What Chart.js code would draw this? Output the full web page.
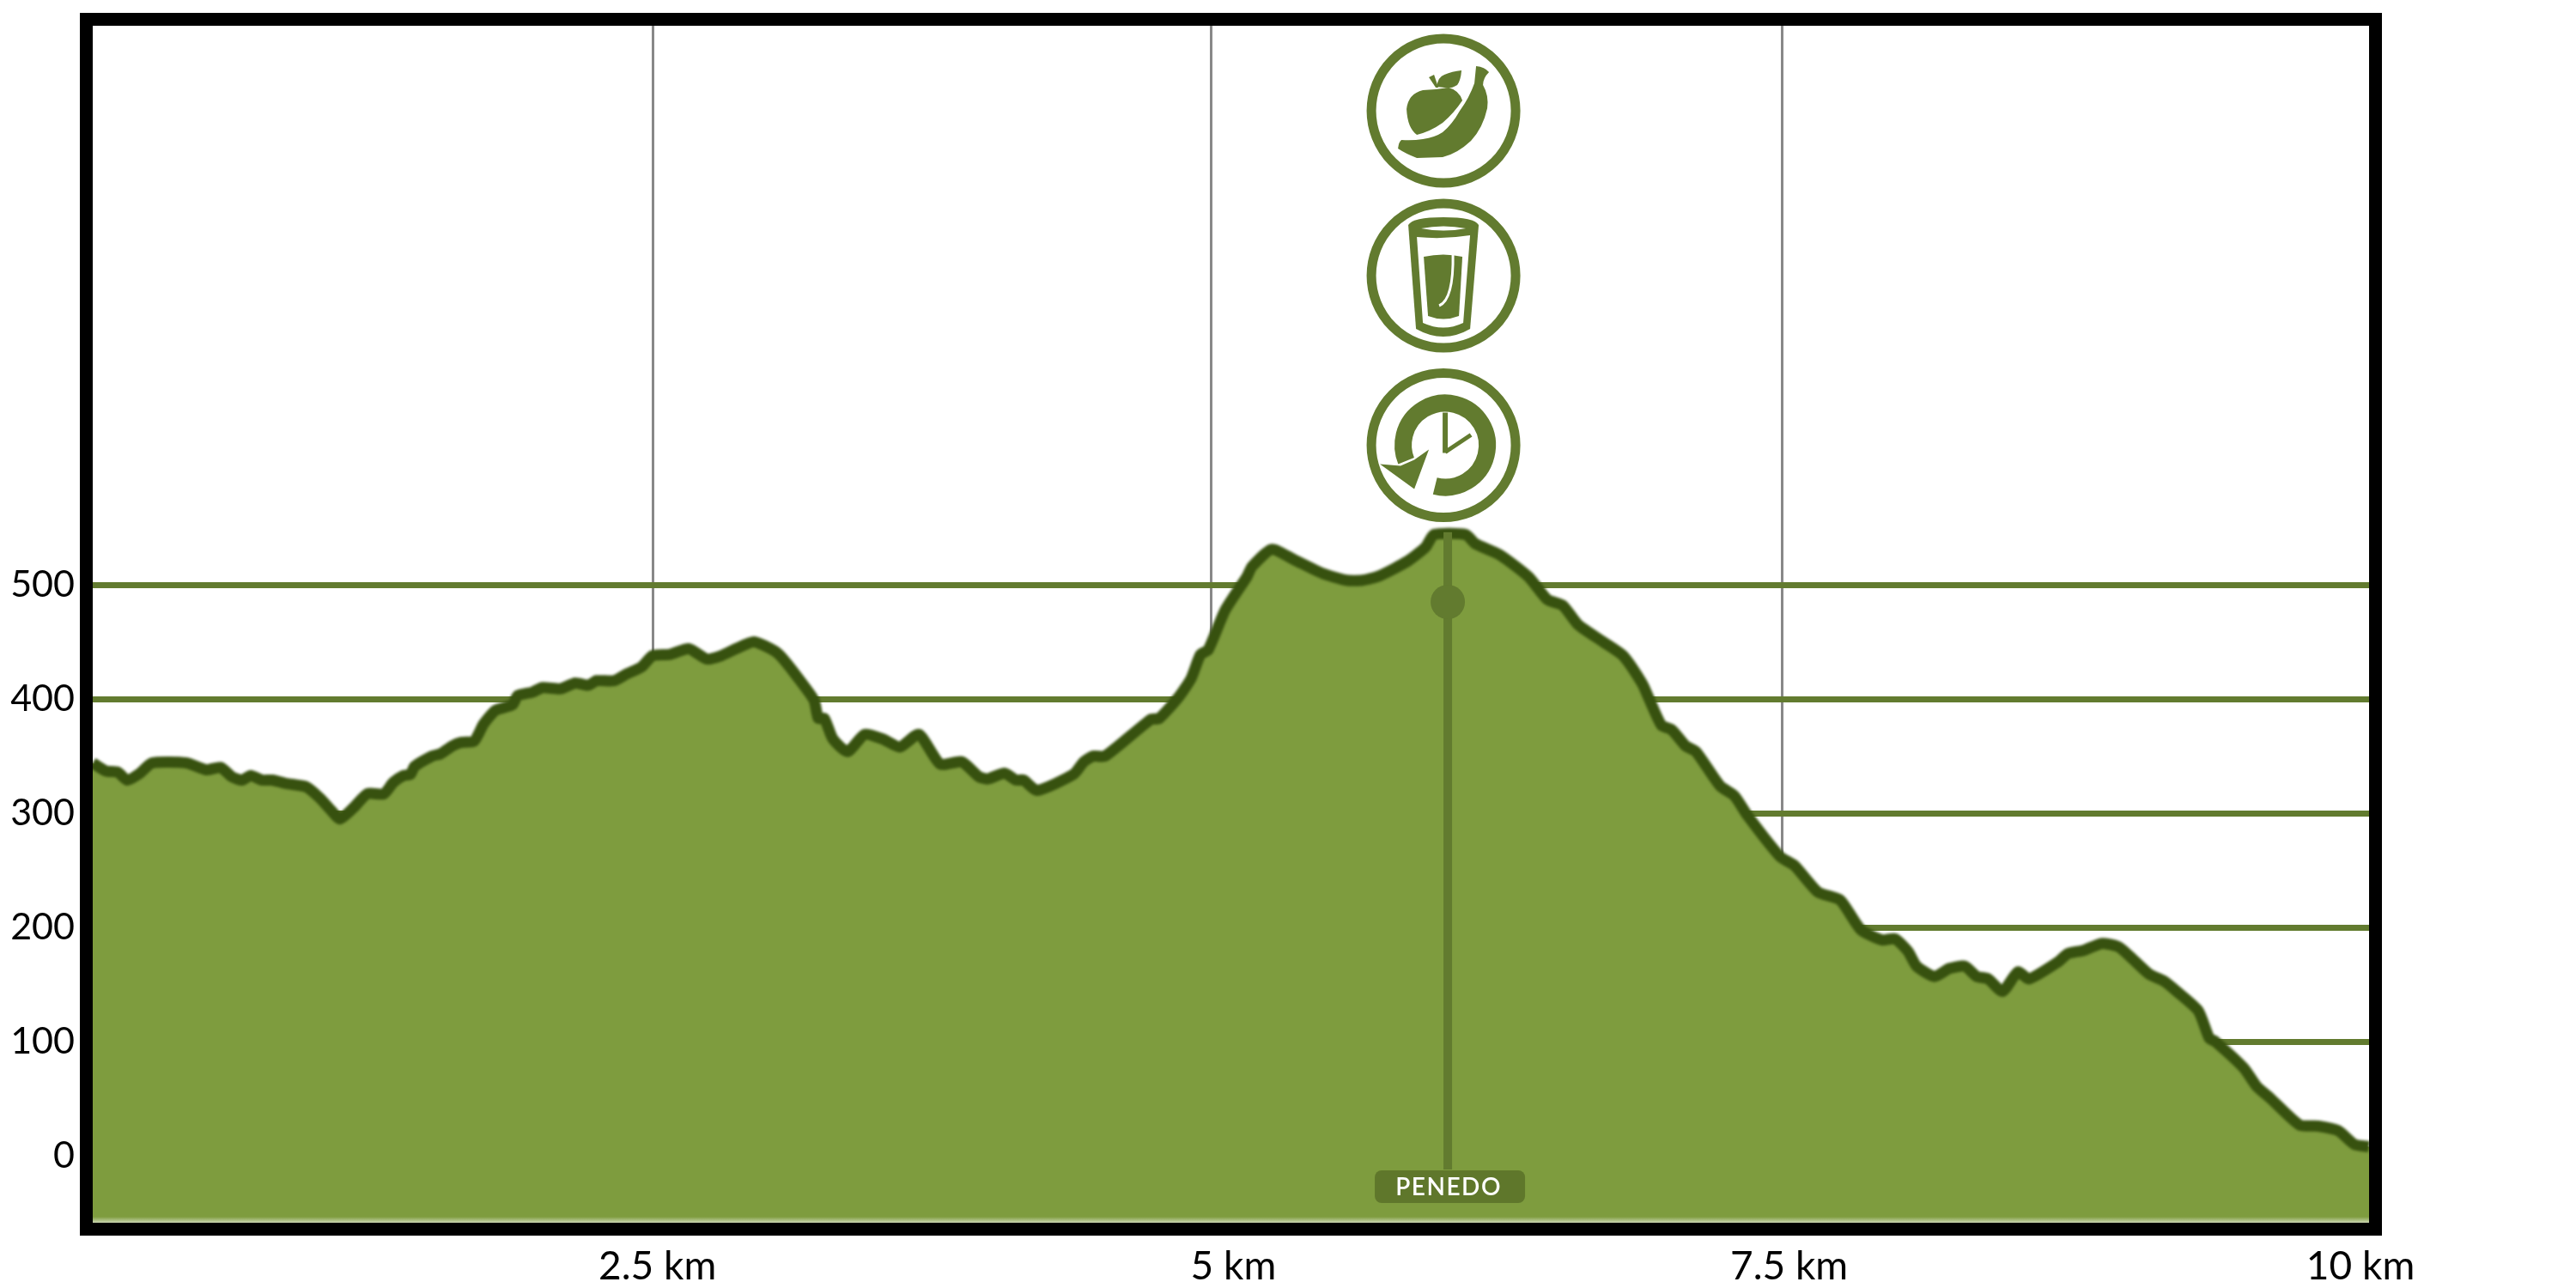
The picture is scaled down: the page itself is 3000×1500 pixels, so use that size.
<!DOCTYPE html>
<html>
<head>
<meta charset="utf-8">
<style>
  html, body { margin: 0; padding: 0; background: #fff; }
  canvas { display: block; }
</style>
<script src="https://cdn.jsdelivr.net/npm/chart.js@4"></script>
</head>
<body>
<canvas id="profileChart" width="3000" height="1500"></canvas>
<script>
// Elevation profile
const distanceKm = [
  0, 0.057, 0.111, 0.153, 0.21, 0.263, 0.416, 0.504, 0.569, 0.618, 0.664, 0.702, 0.752, 0.798, 0.859, 0.95,
  1.011, 1.057, 1.099, 1.16, 1.221, 1.294, 1.336, 1.382, 1.412, 1.431, 1.508, 1.546, 1.599, 1.637, 1.695, 1.737,
  1.79, 1.866, 1.889, 1.954, 2.0, 2.08, 2.145, 2.202, 2.24, 2.317, 2.374, 2.439, 2.489, 2.565, 2.649, 2.729,
  2.794, 2.859, 2.939, 3.031, 3.069, 3.137, 3.206, 3.225, 3.252, 3.29, 3.355, 3.431, 3.511, 3.588, 3.672, 3.767,
  3.863, 3.939, 3.977, 4.053, 4.103, 4.137, 4.198, 4.359, 4.405, 4.447, 4.5, 4.702, 4.74, 4.828, 4.882, 4.924,
  4.958, 5.034, 5.13, 5.153, 5.24, 5.34, 5.466, 5.573, 5.645, 5.721, 5.847, 5.924, 5.962, 6.103, 6.145, 6.256,
  6.382, 6.466, 6.534, 6.603, 6.714, 6.802, 6.889, 6.916, 6.973, 7.019, 7.08, 7.126, 7.233, 7.298, 7.355, 7.5,
  7.565, 7.668, 7.767, 7.859, 7.954, 8.011, 8.069, 8.107, 8.187, 8.252, 8.321, 8.374, 8.424, 8.489, 8.557, 8.607,
  8.737, 8.779, 8.851, 8.931, 9.004, 9.053, 9.141, 9.206, 9.263, 9.359, 9.408, 9.435, 9.561, 9.618, 9.676, 9.809,
  9.893, 9.981, 10.053, 10.118
];
const elevationM = [
  344, 337, 336, 329, 335, 344, 344, 338, 340, 332, 329, 333, 329, 329, 326, 323,
  313, 303, 295, 305, 317, 317, 327, 333, 334, 341, 350, 352, 359, 362, 363, 378,
  390, 395, 403, 406, 410, 409, 414, 412, 416, 416, 422, 428, 438, 439, 444, 435,
  438, 444, 450, 442, 435, 418, 399, 383, 383, 365, 354, 369, 365, 358, 369, 343,
  345, 332, 330, 335, 329, 329, 320, 334, 345, 350, 350, 382, 383, 402, 418, 439,
  443, 478, 507, 516, 531, 522, 510, 504, 504, 508, 521, 533, 544, 544, 536, 526,
  507, 487, 482, 465, 450, 438, 413, 401, 377, 373, 359, 354, 324, 315, 298, 262,
  254, 231, 224, 198, 189, 190, 179, 166, 157, 164, 166, 157, 155, 144, 161, 155,
  170, 177, 180, 186, 183, 175, 159, 153, 144, 127, 103, 100, 77, 61, 51, 27,
  26, 22, 10, 8
];
const yTicks = [0, 100, 200, 300, 400, 500];
const gridKm = [2.49, 4.97, 7.51];
const labelKm = [2.51, 5.07, 7.54, 10.08];
const kmLabels = ["2.5 km", "5 km", "7.5 km", "10 km"];
const stopKm = [6.023];
const stopName = "PENEDO";
const stopDotM = [485];
const stopLineM = [-12, 546];

const xMax = 10.118;
const yMin = -58.6;
const yMax = 989.5;

const FONT = "Lato, 'Open Sans', sans-serif";
const GREEN = "#627b2f";

// Icons are drawn around (0,0), the middle of each ring
function drawFruit(ctx) {
  ctx.fill(new Path2D("M-31 28 Q-42 20 -43 -2 Q-41 -20 -24 -24 L-9 -25 L6 -27 Q18 -24 22 -12 Q12 3 -1 14 Q-15 24 -31 28 Z"));
  ctx.fill(new Path2D("M-8 -28 Q-6 -40 1 -42 Q10 -46 21 -47 Q20 -35 16 -30 Q8 -25 1 -27 Z"));
  ctx.fill(new Path2D("M-17 -39 L-11 -42 L-6 -27 L-9 -27 Z"));
  ctx.fill(new Path2D("M-53 44 Q-52 36 -49 34 Q-36 35 -24 33 Q-10 31 -1 25 Q10 16 19 0 Q30 -15 36 -32 L38 -52 Q48 -51 53 -45 Q46 -38 46 -30 Q53 -18 51 -3 Q46 20 32 35 Q16 50 -1 54 L-31 55 Q-44 50 -53 44 Z"));
}

function drawGlass(ctx) {
  ctx.fill(new Path2D("M-41 -59 Q-36 -68 0 -68 Q36 -68 41 -59 L31 62 Q0 80 -32 62 Z"));
  ctx.fillStyle = "#fff";
  ctx.fill(new Path2D("M-31 -45 Q0 -42 31 -47 L23 55 Q0 66 -24 55 Z"));
  ctx.fill(new Path2D("M-26 -55 Q0 -60 26 -55 Q0 -50 -26 -55 Z"));
  ctx.fillStyle = GREEN;
  ctx.fill(new Path2D("M-23 -22 Q0 -27 22 -22 L18 47 Q0 54 -18 47 Z"));
  ctx.strokeStyle = "#fff";
  ctx.lineWidth = 3;
  ctx.stroke(new Path2D("M11 -26 Q12 28 -5 35"));
}

function drawClock(ctx) {
  ctx.lineWidth = 20;
  ctx.beginPath();
  ctx.arc(2, 0, 49, 104 * Math.PI / 180, 158 * Math.PI / 180, true);
  ctx.stroke();
  ctx.fill(new Path2D("M-74 22 L-34 51 L-17 5 L-34 17 L-50 24 Z"));
  ctx.lineWidth = 6;
  ctx.stroke(new Path2D("M2 -38 L2 9"));
  ctx.lineWidth = 5;
  ctx.stroke(new Path2D("M2 8 L32 -12"));
}

const icons = [
  { cy: 129, draw: drawFruit },
  { cy: 321, draw: drawGlass },
  { cy: 518.5, draw: drawClock }
];

// Frame, soft bottom edge, stop label and the three service icons
const decorPlugin = {
  id: "decor",
  beforeDatasetDraw(chart, args) {
    if (chart.data.datasets[args.index].label === "profile") {
      chart.ctx.save();
      chart.ctx.filter = "blur(1.8px)";
    }
  },
  afterDatasetDraw(chart, args) {
    if (chart.data.datasets[args.index].label === "profile") {
      chart.ctx.restore();
    }
  },
  afterDraw(chart) {
    const ctx = chart.ctx;
    const a = chart.chartArea;

    const fade = ctx.createLinearGradient(0, a.bottom - 7, 0, a.bottom);
    fade.addColorStop(0, "rgba(255,255,255,0)");
    fade.addColorStop(1, "rgba(255,255,255,0.6)");
    ctx.fillStyle = fade;
    ctx.fillRect(a.left, a.bottom - 7, a.right - a.left, 7);

    ctx.strokeStyle = "#000";
    ctx.lineWidth = 15;
    ctx.strokeRect(a.left - 7.5, a.top - 7.5, a.right - a.left + 15, a.bottom - a.top + 15);

    const px = chart.scales.x.getPixelForValue(stopKm[0]);

    ctx.fillStyle = "#5f772b";
    ctx.beginPath();
    ctx.roundRect(px - 85, a.bottom - 61, 175, 38, 8);
    ctx.fill();
    ctx.fillStyle = "#fff";
    ctx.font = "600 28px " + FONT;
    ctx.letterSpacing = "1.5px";
    ctx.textAlign = "center";
    ctx.textBaseline = "middle";
    ctx.fillText(stopName, px + 1, a.bottom - 41);
    ctx.letterSpacing = "0px";

    icons.forEach(icon => {
      ctx.save();
      ctx.translate(px - 5, icon.cy);
      ctx.fillStyle = "#fff";
      ctx.strokeStyle = GREEN;
      ctx.lineWidth = 11;
      ctx.beginPath();
      ctx.arc(0, 0, 84, 0, Math.PI * 2);
      ctx.fill();
      ctx.stroke();
      ctx.fillStyle = GREEN;
      icon.draw(ctx);
      ctx.restore();
    });
  }
};

new Chart(document.getElementById("profileChart"), {
  type: "line",
  data: {
    datasets: [
      {
        label: "dot",
        data: [{ x: stopKm[0], y: stopDotM[0] }],
        showLine: false,
        pointRadius: 20,
        pointBackgroundColor: GREEN,
        pointBorderWidth: 0,
        order: 0
      },
      {
        label: "stop",
        data: stopLineM.map(y => ({ x: stopKm[0], y })),
        borderColor: GREEN,
        borderWidth: 10,
        pointRadius: 0,
        order: 1
      },
      {
        label: "profile",
        data: distanceKm.map((x, i) => ({ x, y: elevationM[i] })),
        borderColor: "#37510f",
        borderWidth: 13,
        borderJoinStyle: "round",
        backgroundColor: "#7e9c3e",
        fill: "start",
        tension: 0.2,
        pointRadius: 0,
        order: 2
      }
    ]
  },
  options: {
    responsive: false,
    animation: false,
    layout: { padding: { top: 30, right: 241, left: 0, bottom: 0 } },
    plugins: { legend: { display: false }, tooltip: { enabled: false } },
    scales: {
      x: {
        type: "linear",
        min: 0,
        max: xMax,
        afterBuildTicks: s => { s.ticks = gridKm.map(value => ({ value })); },
        afterFit: s => { s.height = 0; s.paddingLeft = 0; s.paddingRight = 0; },
        ticks: { display: false },
        border: { display: false },
        grid: { color: "#888888", lineWidth: 3, drawTicks: false }
      },
      xLabels: {
        type: "linear",
        position: "bottom",
        min: 0,
        max: xMax,
        afterBuildTicks: s => { s.ticks = labelKm.map(value => ({ value })); },
        afterFit: s => { s.height = 76; s.paddingLeft = 0; s.paddingRight = 0; },
        ticks: {
          color: "#000",
          font: { family: FONT, size: 46 },
          padding: 16,
          maxRotation: 0,
          autoSkip: false,
          callback: (v, i) => kmLabels[i]
        },
        border: { display: false },
        grid: { display: false }
      },
      y: {
        min: yMin,
        max: yMax,
        afterBuildTicks: s => { s.ticks = yTicks.map(value => ({ value })); },
        afterFit: s => { s.width = 108; s.paddingTop = 0; s.paddingBottom = 0; },
        ticks: {
          color: "#000",
          font: { family: FONT, size: 43 },
          padding: 21,
          autoSkip: false,
          callback: v => String(v)
        },
        border: { display: false },
        grid: { color: GREEN, lineWidth: 7, drawTicks: false }
      }
    }
  },
  plugins: [decorPlugin]
});
</script>
</body>
</html>
